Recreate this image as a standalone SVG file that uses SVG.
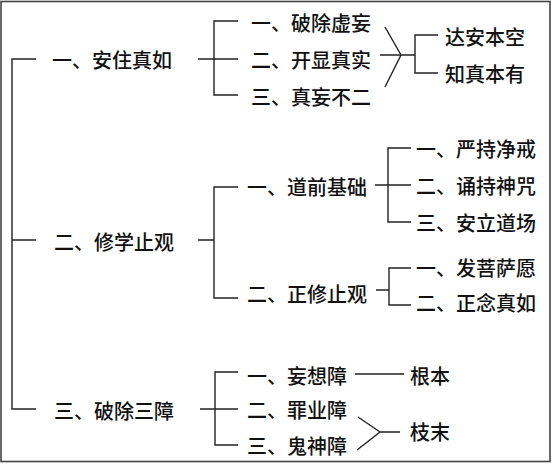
<svg xmlns="http://www.w3.org/2000/svg" width="552" height="465" viewBox="0 0 552 465">
<style>
text{font-family:"Noto Sans CJK SC","Noto Sans",sans-serif;font-size:20px;font-weight:500;fill:#111;dominant-baseline:central}
.c{fill:none;stroke:#222;stroke-width:1.4}
</style>
<rect x="0" y="0" width="552" height="465" fill="#fff"/>
<rect x="1" y="1.5" width="549" height="460" fill="none" stroke="#444" stroke-width="1.6"/>
<g id="connectors" class="c">
<path d="M36,59 H12 V409 H36 M12,240 H36"/>
<path d="M198,59 H238 M238,21 H214 V95 H238"/>
<path d="M385,27 L401,55 L385,87 M380,55 H415 M438,35 H415 V73 H438"/>
<path d="M198,240 H214 M238,187 H214 V298 H238"/>
<path d="M375,185 H411 M411,148 H388 V222 H411"/>
<path d="M376,290 H389 M411,268 H389 V305 H411"/>
<path d="M200,409 H238 M238,372 H215 V445 H238"/>
<path d="M355,374 H404"/>
<path d="M358,417 L380,432 L357,450 M380,432 H400"/>
</g>
<g id="n1"><text x="52" y="59">一、安住真如</text></g>
<g id="n2"><text x="54" y="241">二、修学止观</text></g>
<g id="n3"><text x="54" y="410">三、破除三障</text></g>
<g id="n1a"><text x="251" y="22">一、破除虚妄</text></g>
<g id="n1b"><text x="251" y="59">二、开显真实</text></g>
<g id="n1c"><text x="251" y="96">三、真妄不二</text></g>
<g id="n1r1"><text x="445" y="36">达安本空</text></g>
<g id="n1r2"><text x="445" y="73">知真本有</text></g>
<g id="n2a"><text x="247" y="186">一、道前基础</text></g>
<g id="n2b"><text x="247" y="293">二、正修止观</text></g>
<g id="n2a1"><text x="416" y="148">一、严持净戒</text></g>
<g id="n2a2"><text x="416" y="185">二、诵持神咒</text></g>
<g id="n2a3"><text x="416" y="222">三、安立道场</text></g>
<g id="n2b1"><text x="416" y="267">一、发菩萨愿</text></g>
<g id="n2b2"><text x="416" y="302">二、正念真如</text></g>
<g id="n3a"><text x="247" y="375">一、妄想障</text></g>
<g id="n3b"><text x="247" y="409">二、罪业障</text></g>
<g id="n3c"><text x="247" y="445">三、鬼神障</text></g>
<g id="n3r1"><text x="410" y="375">根本</text></g>
<g id="n3r2"><text x="410" y="431">枝末</text></g>
</svg>
